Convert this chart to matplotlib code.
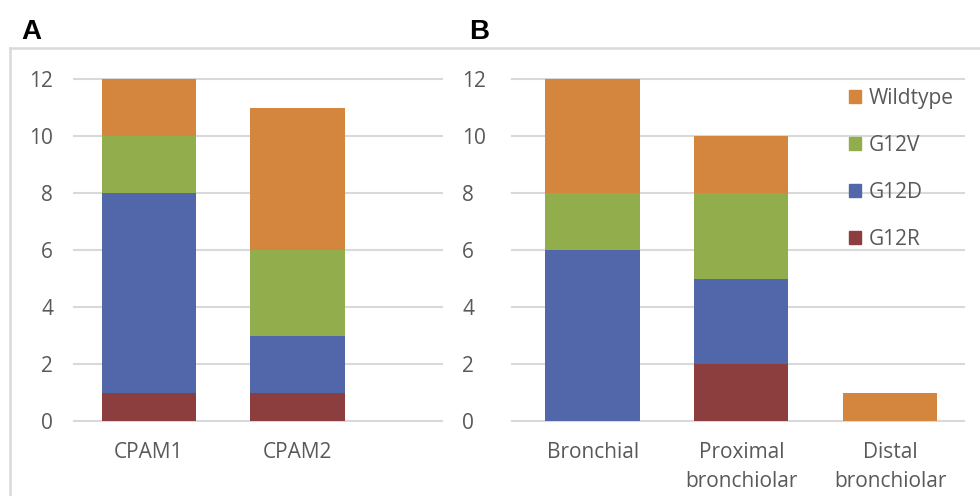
import matplotlib
matplotlib.use("Agg")
import matplotlib.pyplot as plt
from matplotlib.lines import Line2D
from matplotlib.patches import Patch

plt.rcParams['font.family'] = ['Open Sans', 'DejaVu Sans']

# data
series = ["G12R", "G12D", "G12V", "Wildtype"]
colors = ["#8C3D3D", "#5267A9", "#92AE4C", "#D4863E"]

cats_a = ["CPAM1", "CPAM2"]
vals_a = {
    "G12R": [1, 1],
    "G12D": [7, 2],
    "G12V": [2, 3],
    "Wildtype": [2, 5],
}

cats_b = ["Bronchial", "Proximal\nbronchiolar", "Distal\nbronchiolar"]
vals_b = {
    "G12R": [0, 2, 0],
    "G12D": [6, 3, 0],
    "G12V": [2, 3, 0],
    "Wildtype": [4, 2, 1],
}

yticks = [0, 2, 4, 6, 8, 10, 12]

W, H = 980, 496
fig = plt.figure(figsize=(W / 100, H / 100), dpi=100)

grid_c = "#D9D9D9"
txt_c = "#595959"
fs = 15


def stacked(ax, cats, vals):
    x = list(range(len(cats)))
    bottom = [0] * len(cats)
    for s, c in zip(series, colors):
        v = vals[s]
        ax.bar(x, v, 0.635, bottom=bottom, color=c, zorder=3, linewidth=0)
        bottom = [b + h for b, h in zip(bottom, v)]
    ax.set_xticks(x)
    ax.set_xticklabels(cats, linespacing=1.5)
    ax.set_ylim(0, 12)
    ax.set_yticks(yticks)
    for t in yticks:
        ax.axhline(t, color=grid_c, lw=1.5, zorder=1, clip_on=False)
    for sp in ax.spines.values():
        sp.set_visible(False)
    ax.tick_params(length=0, labelsize=fs, labelcolor=txt_c)
    ax.tick_params(axis="x", pad=15)


bot = 1 - 421 / H
top = 1 - 79 / H

ax1 = fig.add_axes([74 / W, bot, (442 - 74) / W, top - bot])
stacked(ax1, cats_a, vals_a)
ax1.set_xlim(-0.505, 1.973)
ax1.tick_params(axis="y", pad=15)

ax2 = fig.add_axes([512 / W, bot, (964 - 512) / W, top - bot])
stacked(ax2, cats_b, vals_b)
ax2.set_xlim(-0.542, 2.498)
ax2.tick_params(axis="y", pad=36)
for lab in ax2.get_yticklabels():
    lab.set_horizontalalignment("left")

handles = [Patch(color=c, label=s) for s, c in zip(series, colors)][::-1]
leg = ax2.legend(handles=handles, loc="upper left",
                 bbox_to_anchor=(849 / W, 1 - 88 / H), bbox_transform=fig.transFigure,
                 frameon=False, fontsize=fs, handlelength=0.56, handleheight=0.56,
                 handletextpad=0.4, labelspacing=1.25, borderpad=0, borderaxespad=0)
for t in leg.get_texts():
    t.set_color(txt_c)

# panel frame
fig.add_artist(Line2D([10 / W, 1], [1 - 48 / H, 1 - 48 / H], color=grid_c, lw=1.8))
fig.add_artist(Line2D([10 / W, 10 / W], [0, 1 - 48 / H], color=grid_c, lw=1.8))

fig.text(21 / W, 1 - 39 / H, "A", fontsize=20, fontweight="bold", family="Liberation Sans")
fig.text(469 / W, 1 - 39 / H, "B", fontsize=20, fontweight="bold", family="Liberation Sans")

fig.savefig("out.png", dpi=100)
